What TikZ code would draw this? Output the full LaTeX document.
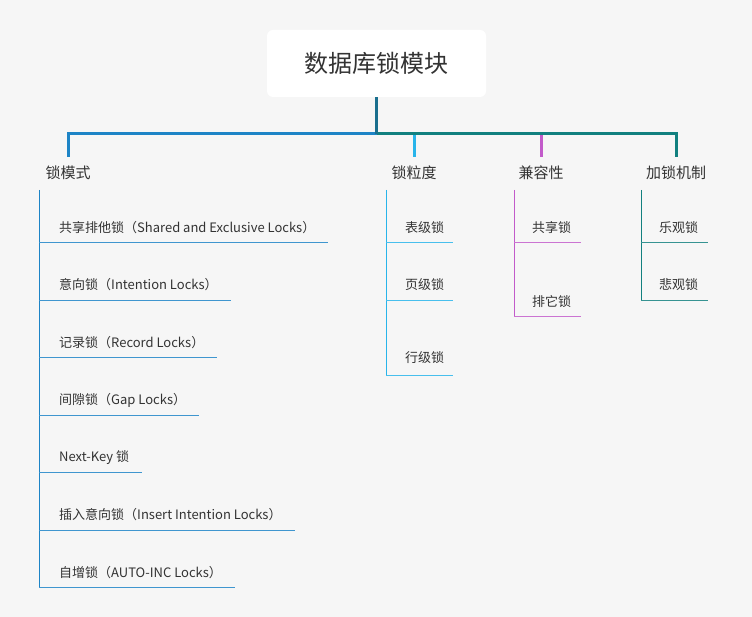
\documentclass[tikz,border=0pt]{standalone}
\usepackage{fontspec}
\setmainfont{Noto Sans CJK SC}
\usetikzlibrary{calc}
\definecolor{bgc}{HTML}{F6F6F6}
\definecolor{txt}{HTML}{333333}
\definecolor{cA}{HTML}{1D84C6}
\definecolor{cB}{HTML}{28B4EA}
\definecolor{cC}{HTML}{C25BCA}
\definecolor{cD}{HTML}{12807F}
\definecolor{cT}{HTML}{1A6F8E}
\tikzset{
  rootbox/.style={fill=white, rounded corners=6pt, minimum width=219pt, minimum height=67pt, inner sep=0pt, text=txt, font=\fontsize{24}{28}\selectfont},
  branchlbl/.style={inner xsep=0pt, inner ysep=8pt, text=txt, font=\fontsize{15}{18}\selectfont},
  leaf/.style={anchor=west, inner sep=0pt, text=txt, font=\fontsize{13}{16}\selectfont},
  bigline/.style={line width=3pt},
  thinline/.style={line width=0.9pt},
}
\begin{document}
\begin{tikzpicture}[x=1pt,y=-1pt]
\fill[bgc] (0,0) rectangle (752,617);
\useasboundingbox (0,0) rectangle (752,617);

% root
\node[rootbox] (root) at (376.5,63.5) {数据库锁模块};
\coordinate (j) at (376.5,134);

% branch labels
\node[branchlbl] (l1) at (68,172.5) {锁模式};
\node[branchlbl] (l2) at (414,172.5) {锁粒度};
\node[branchlbl] (l3) at (541,172.5) {兼容性};
\node[branchlbl] (l4) at (676,172.5) {加锁机制};

% branch verticals (under bar)
\draw[bigline,cB] (l2.north |- j) -- (l2.north);
\draw[bigline,cC] (l3.north |- j) -- (l3.north);
% bar
\draw[bigline,cA] (j) -| (l1.north);
\draw[bigline,cD] (j) -| (l4.north);
\draw[bigline,cT] (root.south) -- (j);

% branch 1 children
\node[leaf] (m1) at (59,227.5) {共享排他锁（Shared and Exclusive Locks）};
\node[leaf] (m2) at (59,285) {意向锁（Intention Locks）};
\node[leaf] (m3) at (59,342.5) {记录锁（Record Locks）};
\node[leaf] (m4) at (59,400) {间隙锁（Gap Locks）};
\node[leaf] (m5) at (59,457.5) {Next-Key 锁};
\node[leaf] (m6) at (59,515) {插入意向锁（Insert Intention Locks）};
\node[leaf] (m7) at (59,572.5) {自增锁（AUTO-INC Locks）};
\coordinate (v1) at (39,190);
\coordinate (m1u) at (39,242.5);
\coordinate (m2u) at (39,300);
\coordinate (m3u) at (39,357.5);
\coordinate (m4u) at (39,415);
\coordinate (m5u) at (39,472.5);
\coordinate (m6u) at (39,530);
\coordinate (m7u) at (39,587.5);
\draw[thinline,cA] (v1) -- (m7u);
\foreach \k in {1,...,7}{
  \draw[thinline,cA!85!white] (m\k u) -- ($(m\k u -| m\k.east)+(13,0)$);
}

% branch 2 children
\node[leaf] (g1) at (405,228) {表级锁};
\node[leaf] (g2) at (405,285) {页级锁};
\node[leaf] (g3) at (405,358) {行级锁};
\coordinate (v2) at (386,190);
\coordinate (g1u) at (386,242.5);
\coordinate (g2u) at (386,300);
\coordinate (g3u) at (386,375);
\draw[thinline,cB] (v2) -- (g3u);
\foreach \k in {1,2,3}{
  \draw[thinline,cB!85!white] (g\k u) -- ++(67,0);
}

% branch 3 children
\node[leaf] (k1) at (532,228) {共享锁};
\node[leaf] (k2) at (532,301.5) {排它锁};
\coordinate (v3) at (514,190);
\coordinate (k1u) at (514,242.5);
\coordinate (k2u) at (514,316);
\draw[thinline,cC] (v3) -- (k2u);
\foreach \k in {1,2}{
  \draw[thinline,cC!85!white] (k\k u) -- ++(67,0);
}

% branch 4 children
\node[leaf] (p1) at (659,228) {乐观锁};
\node[leaf] (p2) at (659,285) {悲观锁};
\coordinate (v4) at (641,190);
\coordinate (p1u) at (641,242.5);
\coordinate (p2u) at (641,300);
\draw[thinline,cD] (v4) -- (p2u);
\foreach \k in {1,2}{
  \draw[thinline,cD!85!white] (p\k u) -- ++(67,0);
}
\end{tikzpicture}
\end{document}
